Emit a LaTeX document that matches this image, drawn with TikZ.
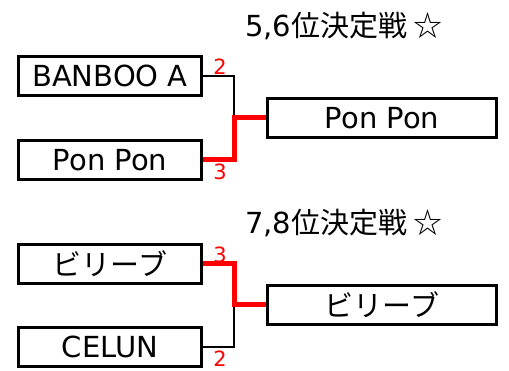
\documentclass[tikz,border=0pt]{standalone}
\usepackage{fontspec}
\setmainfont{DejaVu Sans}
\newfontfamily\jp{Noto Sans CJK JP}
\begin{document}
\begin{tikzpicture}[x=1pt,y=-1pt,
		team/.style={draw, line width=3pt, minimum width=183pt, minimum height=39pt, inner sep=0pt, font=\fontsize{29}{32}\selectfont},
		winbox/.style={team, minimum width=229pt},
		title/.style={font=\fontsize{29}{32}\selectfont},
		score/.style={text=red, inner sep=0pt, font=\fontsize{21}{23}\selectfont},
		lose/.style={line width=2.8pt},
		win/.style={red, line width=5pt}]
	\useasboundingbox (0,0) rectangle (509,371);
	% 5,6位決定戦
	\node[title]   (t56) at (344, 26){5,6{\jp 位決定戦 ☆}};
	\node	(ban) at (110,76) [team] {BANBOO A};
	\node	(pon) at (110,160) [team] {Pon Pon};
	\node	(w56) at (382,118) [winbox] {Pon Pon};
	\coordinate (j56) at (234,118);
	\node[score]   (s1) at (220, 67){2};
	\node[score]   (s2) at (220,172){3};
	
	\draw[lose] (ban.east) -| (j56);
	\draw[win] (pon.east) -| (j56) -- (w56.west);
	
	% 7,8位決定戦
	\node[title]   (t78) at (344,223){7,8{\jp 位決定戦 ☆}};
	\node	(bel) at (110,264) [team] {\jp ビリーブ};
	\node	(cel) at (110,347) [team] {CELUN};
	\node	(w78) at (382,305) [winbox] {\jp ビリーブ};
	\coordinate (j78) at (234,305);
	\node[score]   (s3) at (220,255){3};
	\node[score]   (s4) at (220,359){2};
	
	\draw[lose] (cel.east) -| (j78);
	\draw[win] (bel.east) -| (j78) -- (w78.west);
\end{tikzpicture}
\end{document}
